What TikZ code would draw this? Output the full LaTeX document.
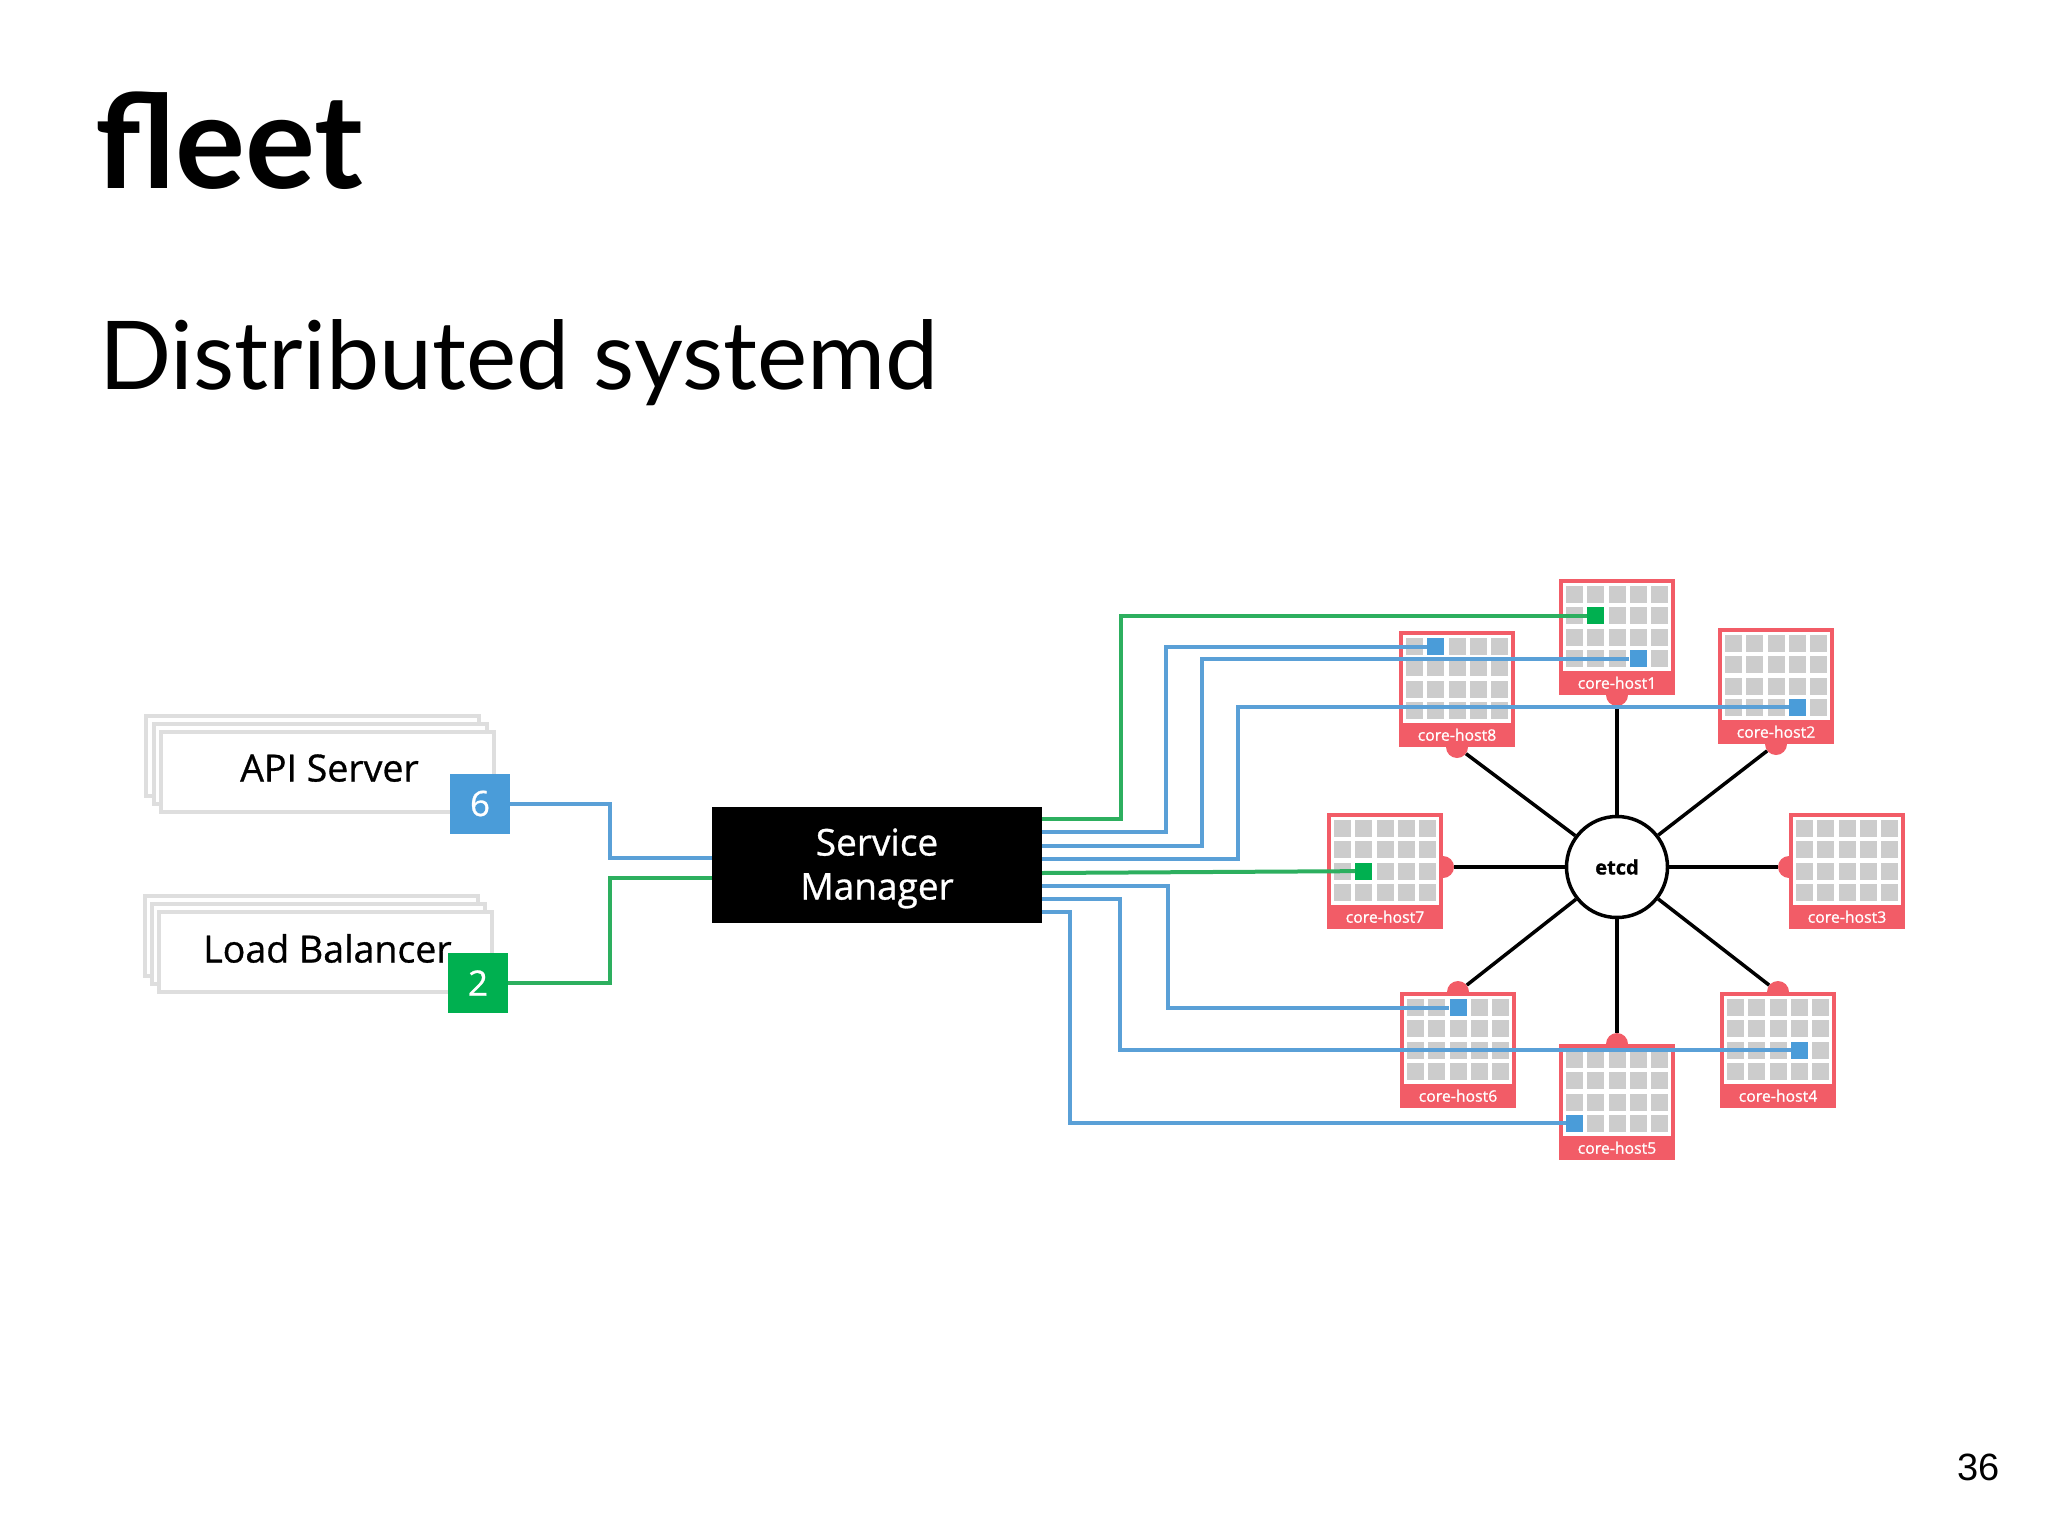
\documentclass[tikz,border=0pt]{standalone}
\usepackage{fontspec}
\setmainfont{Lato}
\newfontfamily\numfont{Liberation Sans}
\newfontfamily\boxfont[FakeBold=0.8]{Open Sans}
\usepackage{tikz}
\usetikzlibrary{positioning}
\usetikzlibrary{backgrounds}
\definecolor{hostred}{RGB}{242, 92, 103}
\definecolor{cellgray}{RGB}{204, 204, 204}
\definecolor{stackgray}{RGB}{222, 222, 222}
\definecolor{jobblue}{RGB}{74, 156, 217}
\definecolor{jobgreen}{RGB}{0, 176, 80}
\definecolor{lineblue}{RGB}{90, 160, 215}
\definecolor{linegreen}{RGB}{45, 175, 95}
\tikzset{
  hostbox/.style={draw=hostred, line width=4pt, fill=white, minimum width=112pt, minimum height=112pt, inner sep=0pt},
  hostband/.style={fill=hostred, text=white, minimum width=116pt, minimum height=24pt, inner sep=0pt, font=\boxfont\fontsize{15.8}{16}\selectfont},
  hostnub/.style={circle, fill=hostred, minimum size=22pt, inner sep=0pt},
  jobcell/.style={minimum width=17pt, minimum height=17pt, inner sep=0pt},
  stackbox/.style={draw=stackgray, line width=4pt, fill=white, minimum width=333pt, minimum height=80pt, inner sep=0pt, font=\boxfont\fontsize{37.5}{37.5}\selectfont},
  badge/.style={text=white, minimum width=60pt, minimum height=60pt, inner sep=0pt, font=\boxfont\fontsize{35}{35}\selectfont},
  blueline/.style={draw=lineblue, line width=4pt},
  greenline/.style={draw=linegreen, line width=4pt},
  spoke/.style={draw=black, line width=3.5pt}
}
% number, left, top, place of the nub, job column, job row, job colour
\newcommand{\corehost}[7]{
  \begin{scope}[shift={(#2,#3)}]
    \node[hostbox] (host#1) at (58,58) {};
    \begin{pgfonlayer}{background}
      \node[hostnub] (nub#1) at (#4) {};
    \end{pgfonlayer}
    \node[hostband, anchor=south] (band#1) at (58,116) {core-host#1};
    \foreach \c in {0,...,4}
      \foreach \r in {0,...,3}
        \fill[cellgray] (7+\c*21.3, 7+\r*21.3) rectangle ++(17,17);
    \node[jobcell, fill=#7] (job#1) at (15.5+#5*21.3, 15.5+#6*21.3) {};
  \end{scope}
}
\begin{document}
\begin{tikzpicture}[x=1pt, y=-1pt]
    \useasboundingbox (0,0) rectangle (2048,1536);
    %
    \node[anchor=base west, inner sep=0pt, font=\fontsize{131}{131}\selectfont\bfseries] (title) at (95,188) {fleet};
    \node[anchor=base west, inner sep=0pt, font=\fontsize{95}{95}\selectfont] (subtitle) at (99,389) {Distributed systemd};
    \node[anchor=base east, inner sep=0pt, font=\fontsize{38}{38}\selectfont\numfont] (pagenum) at (2000,1480) {36};
    %
    \node[stackbox] (apiback) at (312.5,755.5) {};
    \node[stackbox] (apimid) at (320,764) {};
    \node[stackbox, text depth=4pt, text height=24pt] (apifront) at (327,771.5) {\hspace{5pt}API Server};
    \node[stackbox] (lbback) at (311,935.5) {};
    \node[stackbox] (lbmid) at (318,944) {};
    \node[stackbox, text depth=4pt, text height=25pt] (lbfront) at (325.5,952) {\hspace{4pt}Load Balancer};
    \node[badge, fill=jobblue] (apibadge) at (480,803.5) {6};
    \node[badge, fill=jobgreen] (lbbadge) at (478,983) {2};
    %
    \node[fill=black, text=white, minimum width=330pt, minimum height=116pt, inner sep=0pt, align=center, font=\boxfont\fontsize{37}{44}\selectfont] (manager) at (877,865) {\rule{0pt}{34pt}Service\\Manager};
    %
    \node[circle, draw=black, line width=3.5pt, fill=white, minimum size=101pt, inner sep=0pt, font=\boxfont\fontsize{20}{20}\selectfont\bfseries] (etcd) at (1617,867) {etcd};
    %
    \corehost{1}{1559}{579}{host1.south}{1}{1}{jobgreen}
    \corehost{2}{1718}{628}{host2.south}{3}{3}{jobblue}
    \corehost{3}{1789}{813}{host3.west |- etcd}{0}{0}{cellgray}
    \corehost{4}{1720}{992}{host4.north}{3}{2}{jobblue}
    \corehost{5}{1559}{1044}{host5.north}{0}{3}{jobblue}
    \corehost{6}{1400}{992}{host6.north}{2}{0}{jobblue}
    \corehost{7}{1327}{813}{host7.east |- etcd}{1}{2}{jobgreen}
    \corehost{8}{1399}{631}{host8.south}{1}{0}{jobblue}
    %
    \foreach \n in {1,...,8}
      \draw[spoke] (nub\n) -- (etcd);
    %
    \coordinate (leftblue) at (manager.west |- 0,858);
    \coordinate (leftgreen) at (manager.west |- 0,878);
    \draw[blueline] (apibadge.east) -| (610,858) -- (leftblue);
    \draw[greenline] (lbbadge.east) -| (610,878) -- (leftgreen);
    %
    \foreach \n/\yy in {1/819,2/832,3/846,4/859,5/873,6/886,7/899,8/912}
      \coordinate (port\n) at (manager.east |- 0,\yy);
    \node[jobcell, fill=jobblue] (job1b) at (1638,658.5) {};
    \draw[greenline] (port1) -| (1121,0 |- job1) -- (job1);
    \draw[blueline] (port2) -| (1166,0 |- job8) -- (job8);
    \draw[blueline] (port3) -| (1202,0 |- job1b) -- (job1b);
    \draw[blueline] (port4) -| (1238,0 |- job2) -- (job2);
    \draw[greenline] (port5) -- (job7);
    \draw[blueline] (port6) -| (1168,0 |- job6) -- (job6);
    \draw[blueline] (port7) -| (1120,0 |- job4) -- (job4);
    \draw[blueline] (port8) -| (1070,0 |- job5) -- (job5);
    \end{tikzpicture}
\end{document}
